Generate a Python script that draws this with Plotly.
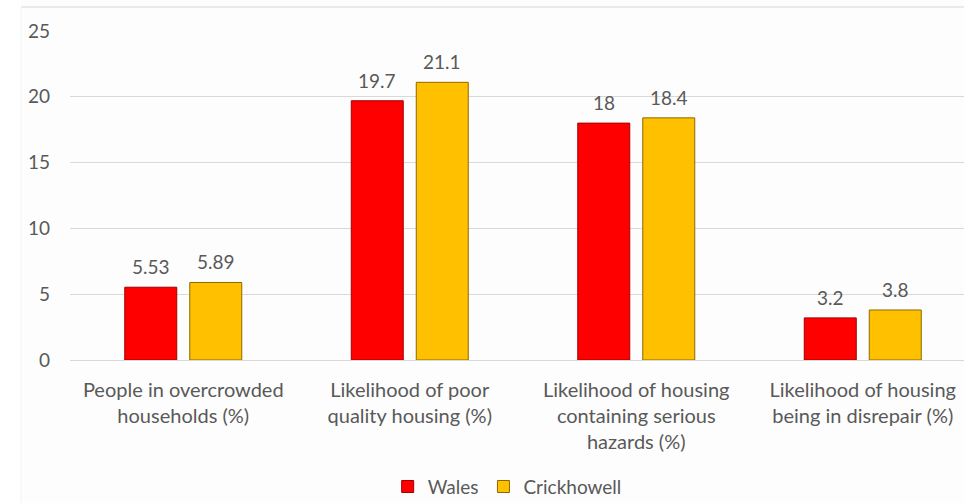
import plotly.graph_objects as go

categories = [
    "People in overcrowded<br>households (%)",
    "Likelihood of poor<br>quality housing (%)",
    "Likelihood of housing<br>containing serious<br>hazards (%)",
    "Likelihood of housing<br>being in disrepair (%)",
]
wales = [5.53, 19.7, 18, 3.2]
crickhowell = [5.89, 21.1, 18.4, 3.8]
wales_labels = ["5.53", "19.7", "18", "3.2"]
crick_labels = ["5.89", "21.1", "18.4", "3.8"]
y_ticks = [0, 5, 10, 15, 20, 25]

FONT = "Lato, Open Sans, sans-serif"
GRAY = "#595959"
BARGAP = 0.426
xs = list(range(len(categories)))

fig = go.Figure()
fig.add_trace(go.Bar(
    x=xs, y=wales, name="Wales",
    marker=dict(color="#FF0000", line=dict(color="#A00000", width=1)),
))
fig.add_trace(go.Bar(
    x=xs, y=crickhowell, name="Crickhowell",
    marker=dict(color="#FFC000", line=dict(color="#8C6A00", width=1)),
))

# data labels centred over each bar of the group
half_slot = (1 - BARGAP) / 4
annotations = []
for i, (v, t) in enumerate(zip(wales, wales_labels)):
    annotations.append(dict(x=i - half_slot, y=v, text=t, showarrow=False,
                            yanchor="bottom", yshift=7,
                            font=dict(family=FONT, size=19, color=GRAY)))
for i, (v, t) in enumerate(zip(crickhowell, crick_labels)):
    annotations.append(dict(x=i + half_slot, y=v, text=t, showarrow=False,
                            yanchor="bottom", yshift=7,
                            font=dict(family=FONT, size=19, color=GRAY)))

L, T, R, B = 70, 31, 0, 143
W, H = 964, 503
pw, ph = W - L - R, H - T - B

fig.update_layout(
    width=W, height=H,
    margin=dict(l=L, r=R, t=T, b=B, pad=0, autoexpand=False),
    paper_bgcolor="#FDFDFD", plot_bgcolor="#FDFDFD",
    barmode="group", bargap=BARGAP, bargroupgap=0.2,
    font=dict(family=FONT, size=19, color=GRAY),
    showlegend=True,
    legend=dict(orientation="h", x=0.489, xanchor="center", y=-0.385, yanchor="middle",
                font=dict(family=FONT, size=19, color=GRAY), itemwidth=30,
                bgcolor="rgba(0,0,0,0)"),
    annotations=annotations,
    xaxis=dict(
        range=[-0.5, 3.447], tickmode="array",
        tickvals=xs, ticktext=categories, automargin=False,
        showgrid=False, zeroline=False, showline=False, ticks="",
        ticklabelstandoff=16,
        tickfont=dict(family=FONT, size=20, color=GRAY), fixedrange=True,
    ),
    yaxis=dict(
        range=[0, 25], tickmode="array", tickvals=y_ticks, automargin=False,
        showgrid=True, gridcolor="#D9D9D9", gridwidth=1,
        zeroline=True, zerolinecolor="#D9D9D9", zerolinewidth=1,
        showline=False, ticks="", ticklabelstandoff=19,
        tickfont=dict(family=FONT, size=19, color=GRAY),
    ),
    shapes=[
        dict(type="rect", xref="paper", yref="paper",
             x0=(0 - L) / pw, x1=(21 - L) / pw, y0=(H - B - H) / ph, y1=(H - B - 0) / ph,
             fillcolor="white", line=dict(width=0), layer="below"),
        dict(type="line", xref="paper", yref="paper",
             x0=(21 - L) / pw, x1=1.0, y0=(H - B - 7) / ph, y1=(H - B - 7) / ph,
             line=dict(color="#E3E3E3", width=1.5)),
        dict(type="line", xref="paper", yref="paper",
             x0=(21 - L) / pw, x1=(21 - L) / pw, y0=(H - B - H) / ph, y1=(H - B - 7) / ph,
             line=dict(color="#F3F3F3", width=1)),
    ],
)

fig.write_html("out.html")
